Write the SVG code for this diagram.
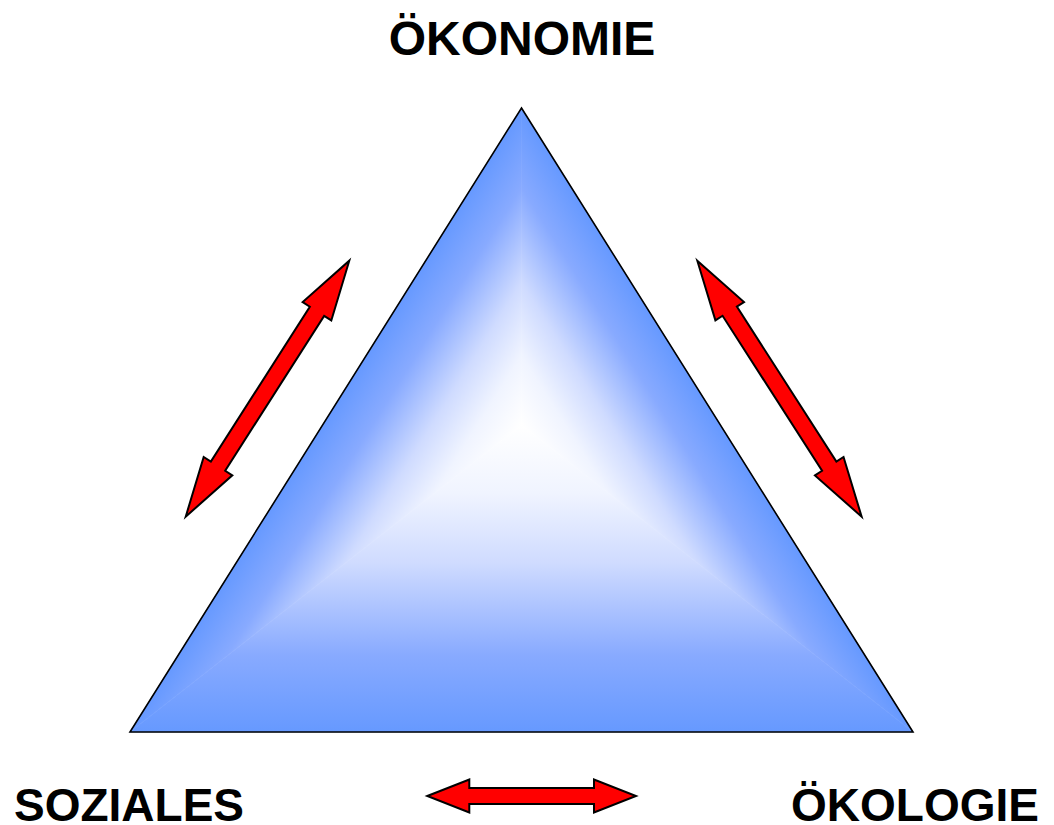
<svg xmlns="http://www.w3.org/2000/svg" width="1054" height="825" viewBox="0 0 1054 825">
  <style>
    .lbl { font-family: "Liberation Sans", Arial, sans-serif; font-weight: bold; fill: #000; }
    .arrow { fill: #ff0000; stroke: #000; stroke-width: 2; stroke-linejoin: miter; }
    .edge { fill: none; stroke: #000; stroke-width: 1.6; stroke-linejoin: miter; }
  </style>
  <defs>
    <linearGradient id="gBottom" gradientUnits="userSpaceOnUse" x1="521.5" y1="732" x2="521.5" y2="425">
      <stop offset="0" stop-color="#6699ff"/>
      <stop offset="0.25" stop-color="#88aaff"/>
      <stop offset="0.55" stop-color="#cfdbff"/>
      <stop offset="0.78" stop-color="#f0f4ff"/>
      <stop offset="1" stop-color="#ffffff"/>
    </linearGradient>
    <linearGradient id="gLeft" gradientUnits="userSpaceOnUse" x1="378.8" y1="335.4" x2="521.5" y2="425">
      <stop offset="0" stop-color="#6699ff"/>
      <stop offset="0.25" stop-color="#88aaff"/>
      <stop offset="0.55" stop-color="#cfdbff"/>
      <stop offset="0.78" stop-color="#f0f4ff"/>
      <stop offset="1" stop-color="#ffffff"/>
    </linearGradient>
    <linearGradient id="gRight" gradientUnits="userSpaceOnUse" x1="664.2" y1="335.4" x2="521.5" y2="425">
      <stop offset="0" stop-color="#6699ff"/>
      <stop offset="0.25" stop-color="#88aaff"/>
      <stop offset="0.55" stop-color="#cfdbff"/>
      <stop offset="0.78" stop-color="#f0f4ff"/>
      <stop offset="1" stop-color="#ffffff"/>
    </linearGradient>
  </defs>

  <g id="triangle">
    <polygon points="521.5,108 130,732 521.5,425" fill="url(#gLeft)" stroke="url(#gLeft)" stroke-width="0.6"/>
    <polygon points="521.5,108 913,732 521.5,425" fill="url(#gRight)" stroke="url(#gRight)" stroke-width="0.6"/>
    <polygon points="130,732 913,732 521.5,425" fill="url(#gBottom)" stroke="url(#gBottom)" stroke-width="0.6"/>
    <polygon class="edge" points="521.5,108 913,732 130,732"/>
  </g>

  <g id="node-oekonomie">
    <text class="lbl" x="522" y="54.5" font-size="48" text-anchor="middle">ÖKONOMIE</text>
  </g>
  <g id="node-soziales">
    <text class="lbl" x="14" y="821" font-size="46">SOZIALES</text>
  </g>
  <g id="node-oekologie">
    <text class="lbl" x="791" y="821" font-size="46">ÖKOLOGIE</text>
  </g>

  <g id="connectors">
    <polygon class="arrow" transform="translate(185.7,516.7) rotate(-57.42)"
      points="0,0 60,-17 60,-8.5 243.8,-8.5 243.8,-17 303.8,0 243.8,17 243.8,8.5 60,8.5 60,17"/>
    <polygon class="arrow" transform="translate(697.3,260.7) rotate(57.3)"
      points="0,0 60,-17 60,-8.5 244.2,-8.5 244.2,-17 304.2,0 244.2,17 244.2,8.5 60,8.5 60,17"/>
    <polygon class="arrow" transform="translate(427.3,796)"
      points="0,0 42,-16.5 42,-8 166.7,-8 166.7,-16.5 208.7,0 166.7,16.5 166.7,8 42,8 42,16.5"/>
  </g>
</svg>
